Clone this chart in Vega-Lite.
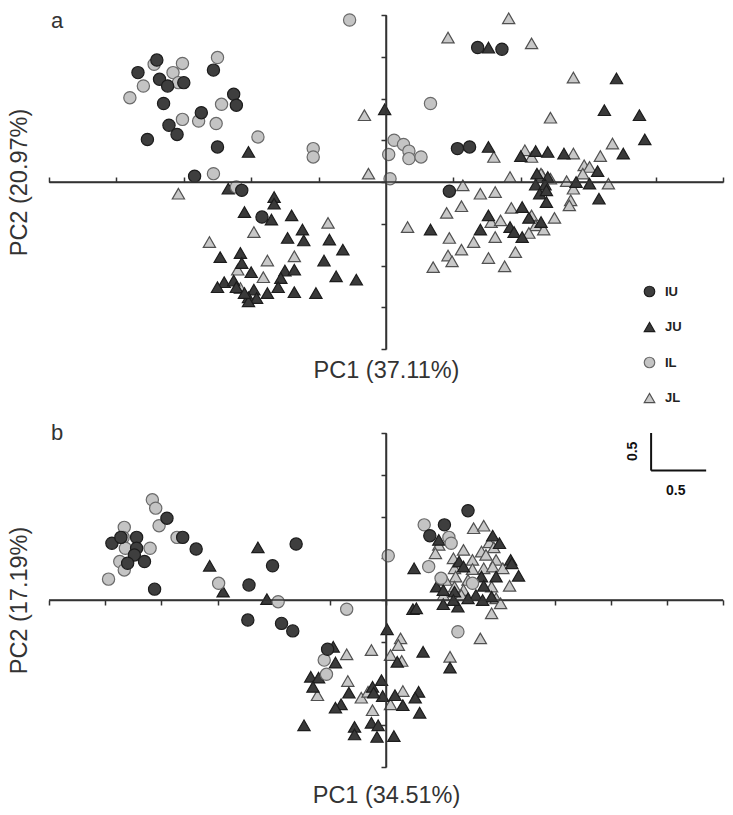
{
  "$schema": "https://vega.github.io/schema/vega-lite/v6.json",
  "background": "white",
  "padding": {"left": 7, "top": 9, "right": 5, "bottom": 5},
  "bounds": "flush",
  "spacing": 84,
  "config": {
    "view": {"stroke": null},
    "font": "Liberation Sans",
    "axis": {"grid": false},
    "legend": {"labelFont": "Liberation Sans", "labelFontSize": 13, "labelFontWeight": "bold", "labelColor": "#222", "symbolSize": 110, "symbolStrokeWidth": 1.2, "rowPadding": 19.5, "labelOffset": 9, "padding": 0}
  },
  "datasets": {
    "pa": [
      {"group":"JL","pc1":-0.16,"pc2":0.80},{"group":"JL","pc1":-0.13,"pc2":0.10},{"group":"JL","pc1":-1.54,"pc2":-0.14},{"group":"JL","pc1":-0.43,"pc2":-0.49},{"group":"JL","pc1":-0.98,"pc2":-0.60},{"group":"JL","pc1":-1.31,"pc2":-0.72},{"group":"JL","pc1":-0.88,"pc2":-0.94},{"group":"JL","pc1":-0.68,"pc2":-0.89},{"group":"JL","pc1":-1.10,"pc2":-1.05},{"group":"JL","pc1":-0.91,"pc2":-1.14},{"group":"JL","pc1":-1.08,"pc2":-1.27},
      {"group":"JL","pc1":0.91,"pc2":1.96},{"group":"JL","pc1":0.46,"pc2":1.73},{"group":"JL","pc1":1.08,"pc2":1.66},{"group":"JL","pc1":1.39,"pc2":1.25},{"group":"JL","pc1":1.22,"pc2":0.77},{"group":"JL","pc1":1.68,"pc2":0.46},{"group":"JL","pc1":0.80,"pc2":0.30},{"group":"JL","pc1":1.03,"pc2":0.38},{"group":"JL","pc1":1.08,"pc2":0.30},{"group":"JL","pc1":1.39,"pc2":0.34},{"group":"JL","pc1":1.59,"pc2":0.31},{"group":"JL","pc1":0.92,"pc2":0.06},{"group":"JL","pc1":1.47,"pc2":0.20},{"group":"JL","pc1":1.51,"pc2":0.18},{"group":"JL","pc1":1.46,"pc2":0.10},{"group":"JL","pc1":1.16,"pc2":0.08},{"group":"JL","pc1":1.22,"pc2":0.04},{"group":"JL","pc1":1.34,"pc2":0.01},{"group":"JL","pc1":1.65,"pc2":-0.02},{"group":"JL","pc1":0.57,"pc2":-0.04},{"group":"JL","pc1":1.39,"pc2":-0.08},{"group":"JL","pc1":0.70,"pc2":-0.14},{"group":"JL","pc1":0.81,"pc2":-0.12},{"group":"JL","pc1":1.37,"pc2":-0.22},{"group":"JL","pc1":1.36,"pc2":-0.28},{"group":"JL","pc1":0.56,"pc2":-0.29},{"group":"JL","pc1":0.45,"pc2":-0.37},{"group":"JL","pc1":0.93,"pc2":-0.31},{"group":"JL","pc1":0.78,"pc2":-0.48},{"group":"JL","pc1":0.85,"pc2":-0.46},{"group":"JL","pc1":1.08,"pc2":-0.40},{"group":"JL","pc1":1.11,"pc2":-0.52},{"group":"JL","pc1":1.25,"pc2":-0.43},{"group":"JL","pc1":1.17,"pc2":-0.57},{"group":"JL","pc1":1.06,"pc2":-0.61},{"group":"JL","pc1":0.16,"pc2":-0.54},{"group":"JL","pc1":0.65,"pc2":-0.72},{"group":"JL","pc1":0.47,"pc2":-0.67},{"group":"JL","pc1":0.81,"pc2":-0.66},{"group":"JL","pc1":0.56,"pc2":-0.81},{"group":"JL","pc1":0.96,"pc2":-0.84},{"group":"JL","pc1":0.46,"pc2":-0.88},{"group":"JL","pc1":0.49,"pc2":-0.95},{"group":"JL","pc1":0.76,"pc2":-0.91},{"group":"JL","pc1":0.35,"pc2":-1.02},{"group":"JL","pc1":0.88,"pc2":-1.01},{"group":"JL","pc1":1.15,"pc2":0.10},
      {"group":"JU","pc1":-1.02,"pc2":0.36},{"group":"JU","pc1":-0.01,"pc2":0.87},{"group":"JU","pc1":-1.17,"pc2":-0.08},{"group":"JU","pc1":-0.83,"pc2":-0.18},{"group":"JU","pc1":-0.83,"pc2":-0.26},{"group":"JU","pc1":-1.05,"pc2":-0.36},{"group":"JU","pc1":-0.85,"pc2":-0.45},{"group":"JU","pc1":-0.70,"pc2":-0.40},{"group":"JU","pc1":-0.62,"pc2":-0.57},{"group":"JU","pc1":-0.73,"pc2":-0.67},{"group":"JU","pc1":-0.61,"pc2":-0.70},{"group":"JU","pc1":-0.42,"pc2":-0.69},{"group":"JU","pc1":-0.32,"pc2":-0.81},{"group":"JU","pc1":-1.23,"pc2":-0.90},{"group":"JU","pc1":-1.08,"pc2":-0.85},{"group":"JU","pc1":-0.46,"pc2":-0.94},{"group":"JU","pc1":-1.07,"pc2":-0.97},{"group":"JU","pc1":-1.00,"pc2":-1.08},{"group":"JU","pc1":-0.75,"pc2":-1.06},{"group":"JU","pc1":-0.68,"pc2":-1.05},{"group":"JU","pc1":-0.37,"pc2":-1.13},{"group":"JU","pc1":-0.22,"pc2":-1.17},{"group":"JU","pc1":-0.78,"pc2":-1.15},{"group":"JU","pc1":-1.20,"pc2":-1.20},{"group":"JU","pc1":-1.13,"pc2":-1.18},{"group":"JU","pc1":-1.25,"pc2":-1.26},{"group":"JU","pc1":-1.11,"pc2":-1.26},{"group":"JU","pc1":-0.80,"pc2":-1.26},{"group":"JU","pc1":-0.98,"pc2":-1.29},{"group":"JU","pc1":-0.88,"pc2":-1.33},{"group":"JU","pc1":-0.68,"pc2":-1.32},{"group":"JU","pc1":-0.52,"pc2":-1.33},{"group":"JU","pc1":-1.02,"pc2":-1.38},{"group":"JU","pc1":-0.96,"pc2":-1.39},{"group":"JU","pc1":-1.02,"pc2":-1.43},{"group":"JU","pc1":-1.05,"pc2":-1.33},
      {"group":"JU","pc1":0.76,"pc2":1.61},{"group":"JU","pc1":1.71,"pc2":1.24},{"group":"JU","pc1":1.62,"pc2":0.86},{"group":"JU","pc1":1.88,"pc2":0.80},{"group":"JU","pc1":1.92,"pc2":0.51},{"group":"JU","pc1":0.76,"pc2":0.42},{"group":"JU","pc1":1.00,"pc2":0.31},{"group":"JU","pc1":1.11,"pc2":0.37},{"group":"JU","pc1":1.20,"pc2":0.36},{"group":"JU","pc1":1.32,"pc2":0.34},{"group":"JU","pc1":1.76,"pc2":0.34},{"group":"JU","pc1":1.57,"pc2":0.13},{"group":"JU","pc1":1.12,"pc2":0.10},{"group":"JU","pc1":1.20,"pc2":0.06},{"group":"JU","pc1":1.41,"pc2":0.00},{"group":"JU","pc1":1.51,"pc2":-0.02},{"group":"JU","pc1":1.11,"pc2":-0.03},{"group":"JU","pc1":1.18,"pc2":-0.03},{"group":"JU","pc1":1.14,"pc2":-0.14},{"group":"JU","pc1":1.19,"pc2":-0.10},{"group":"JU","pc1":1.58,"pc2":-0.20},{"group":"JU","pc1":1.19,"pc2":-0.24},{"group":"JU","pc1":1.01,"pc2":-0.30},{"group":"JU","pc1":0.76,"pc2":-0.40},{"group":"JU","pc1":1.06,"pc2":-0.43},{"group":"JU","pc1":1.15,"pc2":-0.48},{"group":"JU","pc1":0.92,"pc2":-0.54},{"group":"JU","pc1":0.95,"pc2":-0.60},{"group":"JU","pc1":1.01,"pc2":-0.66},{"group":"JU","pc1":0.33,"pc2":-0.57},{"group":"JU","pc1":0.70,"pc2":-0.57},
      {"group":"IL","pc1":-0.27,"pc2":1.94},{"group":"IL","pc1":-1.72,"pc2":1.41},{"group":"IL","pc1":-1.51,"pc2":1.42},{"group":"IL","pc1":-1.25,"pc2":1.49},{"group":"IL","pc1":-1.58,"pc2":1.31},{"group":"IL","pc1":-1.54,"pc2":1.19},{"group":"IL","pc1":-1.80,"pc2":1.15},{"group":"IL","pc1":-1.90,"pc2":1.01},{"group":"IL","pc1":-1.22,"pc2":0.93},{"group":"IL","pc1":-1.51,"pc2":0.75},{"group":"IL","pc1":-1.39,"pc2":0.73},{"group":"IL","pc1":-1.26,"pc2":0.70},{"group":"IL","pc1":-0.95,"pc2":0.54},{"group":"IL","pc1":-0.54,"pc2":0.40},{"group":"IL","pc1":-0.54,"pc2":0.30},{"group":"IL","pc1":-1.28,"pc2":0.10},{"group":"IL","pc1":-1.11,"pc2":-0.06},{"group":"IL","pc1":0.33,"pc2":0.94},{"group":"IL","pc1":0.06,"pc2":0.50},{"group":"IL","pc1":0.13,"pc2":0.45},{"group":"IL","pc1":0.17,"pc2":0.37},{"group":"IL","pc1":0.02,"pc2":0.33},{"group":"IL","pc1":0.17,"pc2":0.28},{"group":"IL","pc1":0.26,"pc2":0.30},{"group":"IL","pc1":0.03,"pc2":0.04},
      {"group":"IU","pc1":-1.70,"pc2":1.46},{"group":"IU","pc1":-1.84,"pc2":1.31},{"group":"IU","pc1":-1.28,"pc2":1.34},{"group":"IU","pc1":-1.68,"pc2":1.23},{"group":"IU","pc1":-1.50,"pc2":1.19},{"group":"IU","pc1":-1.62,"pc2":1.15},{"group":"IU","pc1":-1.13,"pc2":1.05},{"group":"IU","pc1":-1.65,"pc2":0.94},{"group":"IU","pc1":-1.11,"pc2":0.92},{"group":"IU","pc1":-1.37,"pc2":0.83},{"group":"IU","pc1":-1.61,"pc2":0.68},{"group":"IU","pc1":-1.55,"pc2":0.57},{"group":"IU","pc1":-1.77,"pc2":0.51},{"group":"IU","pc1":-1.25,"pc2":0.42},{"group":"IU","pc1":-1.42,"pc2":0.07},{"group":"IU","pc1":-1.07,"pc2":-0.10},{"group":"IU","pc1":-0.92,"pc2":-0.42},{"group":"IU","pc1":0.68,"pc2":1.61},{"group":"IU","pc1":0.86,"pc2":1.59},{"group":"IU","pc1":0.53,"pc2":0.40},{"group":"IU","pc1":0.62,"pc2":0.42},{"group":"IU","pc1":0.47,"pc2":-0.11}
    ],
    "pb": [
      {"group":"JL","pc1":-0.35,"pc2":-0.65},{"group":"JL","pc1":-0.13,"pc2":-0.60},{"group":"JL","pc1":-0.34,"pc2":-0.97},{"group":"JL","pc1":-0.61,"pc2":-1.14},{"group":"JL","pc1":-0.22,"pc2":-1.17},{"group":"JL","pc1":-0.16,"pc2":-1.10},{"group":"JL","pc1":-0.12,"pc2":-1.32},{"group":"JL","pc1":0.13,"pc2":-0.46},{"group":"JL","pc1":0.11,"pc2":-0.54},{"group":"JL","pc1":0.04,"pc2":-0.66},{"group":"JL","pc1":0.14,"pc2":-0.73},{"group":"JL","pc1":0.15,"pc2":-1.09},{"group":"JL","pc1":0.04,"pc2":-1.25},{"group":"JL","pc1":0.57,"pc2":-0.68},{"group":"JL","pc1":0.84,"pc2":-0.46},{"group":"JL","pc1":0.94,"pc2":-0.16},{"group":"JL","pc1":0.78,"pc2":0.86},{"group":"JL","pc1":0.87,"pc2":0.89},{"group":"JL","pc1":0.47,"pc2":0.66},{"group":"JL","pc1":0.44,"pc2":0.56},{"group":"JL","pc1":0.92,"pc2":0.69},{"group":"JL","pc1":0.96,"pc2":0.63},{"group":"JL","pc1":0.69,"pc2":0.60},{"group":"JL","pc1":0.85,"pc2":0.58},{"group":"JL","pc1":0.60,"pc2":0.50},{"group":"JL","pc1":0.77,"pc2":0.48},{"group":"JL","pc1":0.98,"pc2":0.48},{"group":"JL","pc1":0.89,"pc2":0.54},{"group":"JL","pc1":0.61,"pc2":0.38},{"group":"JL","pc1":0.77,"pc2":0.37},{"group":"JL","pc1":0.87,"pc2":0.38},{"group":"JL","pc1":0.95,"pc2":0.40},{"group":"JL","pc1":1.04,"pc2":0.38},{"group":"JL","pc1":0.62,"pc2":0.28},{"group":"JL","pc1":0.73,"pc2":0.24},{"group":"JL","pc1":1.10,"pc2":0.17},{"group":"JL","pc1":0.53,"pc2":0.24},{"group":"JL","pc1":0.61,"pc2":0.16},{"group":"JL","pc1":0.94,"pc2":0.16},{"group":"JL","pc1":0.69,"pc2":0.12},{"group":"JL","pc1":0.67,"pc2":0.06},{"group":"JL","pc1":0.51,"pc2":0.06},{"group":"JL","pc1":0.98,"pc2":0.02},{"group":"JL","pc1":1.02,"pc2":-0.04},
      {"group":"JU","pc1":-1.57,"pc2":0.41},{"group":"JU","pc1":-1.45,"pc2":0.10},{"group":"JU","pc1":-1.14,"pc2":0.63},{"group":"JU","pc1":-1.06,"pc2":0.01},{"group":"JU","pc1":-0.47,"pc2":-0.56},{"group":"JU","pc1":-0.45,"pc2":-0.75},{"group":"JU","pc1":-0.67,"pc2":-0.92},{"group":"JU","pc1":-0.60,"pc2":-0.93},{"group":"JU","pc1":-0.65,"pc2":-1.04},{"group":"JU","pc1":-0.33,"pc2":-1.11},{"group":"JU","pc1":-0.40,"pc2":-1.25},{"group":"JU","pc1":-0.45,"pc2":-1.29},{"group":"JU","pc1":-0.73,"pc2":-1.50},{"group":"JU","pc1":-0.13,"pc2":-1.47},{"group":"JU","pc1":-0.07,"pc2":-1.50},{"group":"JU","pc1":-0.28,"pc2":-1.52},{"group":"JU","pc1":-0.28,"pc2":-1.61},{"group":"JU","pc1":-0.08,"pc2":-1.64},{"group":"JU","pc1":0.07,"pc2":-1.63},{"group":"JU","pc1":0.01,"pc2":-0.35},{"group":"JU","pc1":0.33,"pc2":-0.62},{"group":"JU","pc1":0.10,"pc2":-0.74},{"group":"JU","pc1":-0.04,"pc2":-0.96},{"group":"JU","pc1":-0.12,"pc2":-1.04},{"group":"JU","pc1":-0.03,"pc2":-1.15},{"group":"JU","pc1":-0.11,"pc2":-1.11},{"group":"JU","pc1":0.08,"pc2":-1.14},{"group":"JU","pc1":0.29,"pc2":-1.10},{"group":"JU","pc1":0.26,"pc2":-1.17},{"group":"JU","pc1":0.15,"pc2":-1.26},{"group":"JU","pc1":0.30,"pc2":-1.35},{"group":"JU","pc1":0.57,"pc2":-0.81},{"group":"JU","pc1":0.24,"pc2":-0.11},{"group":"JU","pc1":0.27,"pc2":-0.10},{"group":"JU","pc1":0.64,"pc2":-0.08},{"group":"JU","pc1":0.47,"pc2":0.72},{"group":"JU","pc1":0.95,"pc2":0.77},{"group":"JU","pc1":1.01,"pc2":0.68},{"group":"JU","pc1":0.65,"pc2":0.46},{"group":"JU","pc1":1.11,"pc2":0.48},{"group":"JU","pc1":0.25,"pc2":0.38},{"group":"JU","pc1":0.69,"pc2":0.40},{"group":"JU","pc1":0.85,"pc2":0.28},{"group":"JU","pc1":0.98,"pc2":0.28},{"group":"JU","pc1":1.18,"pc2":0.29},{"group":"JU","pc1":0.45,"pc2":0.16},{"group":"JU","pc1":0.87,"pc2":0.17},{"group":"JU","pc1":0.51,"pc2":0.12},{"group":"JU","pc1":0.61,"pc2":0.10},{"group":"JU","pc1":0.80,"pc2":0.06},{"group":"JU","pc1":0.94,"pc2":0.04},{"group":"JU","pc1":0.73,"pc2":0.02},{"group":"JU","pc1":0.60,"pc2":0.00},{"group":"JU","pc1":0.86,"pc2":0.00},{"group":"JU","pc1":1.12,"pc2":0.44},{"group":"JU","pc1":0.51,"pc2":-0.05},
      {"group":"IL","pc1":-2.08,"pc2":1.20},{"group":"IL","pc1":-2.05,"pc2":1.10},{"group":"IL","pc1":-2.02,"pc2":0.89},{"group":"IL","pc1":-2.33,"pc2":0.87},{"group":"IL","pc1":-2.34,"pc2":0.75},{"group":"IL","pc1":-2.32,"pc2":0.62},{"group":"IL","pc1":-2.10,"pc2":0.62},{"group":"IL","pc1":-2.37,"pc2":0.46},{"group":"IL","pc1":-2.33,"pc2":0.36},{"group":"IL","pc1":-2.47,"pc2":0.25},{"group":"IL","pc1":-1.86,"pc2":0.75},{"group":"IL","pc1":-1.49,"pc2":0.20},{"group":"IL","pc1":-0.96,"pc2":-0.02},{"group":"IL","pc1":-0.35,"pc2":-0.11},{"group":"IL","pc1":-0.55,"pc2":-0.72},{"group":"IL","pc1":-0.53,"pc2":-0.89},{"group":"IL","pc1":0.64,"pc2":-0.38},{"group":"IL","pc1":0.02,"pc2":0.53},{"group":"IL","pc1":0.34,"pc2":0.90},{"group":"IL","pc1":0.56,"pc2":0.75},{"group":"IL","pc1":0.58,"pc2":0.68},{"group":"IL","pc1":0.38,"pc2":0.40},{"group":"IL","pc1":0.49,"pc2":0.26},{"group":"IL","pc1":0.77,"pc2":0.20},
      {"group":"IU","pc1":-1.95,"pc2":0.98},{"group":"IU","pc1":-2.44,"pc2":0.68},{"group":"IU","pc1":-2.36,"pc2":0.75},{"group":"IU","pc1":-2.22,"pc2":0.75},{"group":"IU","pc1":-2.22,"pc2":0.62},{"group":"IU","pc1":-2.24,"pc2":0.54},{"group":"IU","pc1":-2.15,"pc2":0.46},{"group":"IU","pc1":-2.30,"pc2":0.44},{"group":"IU","pc1":-2.06,"pc2":0.13},{"group":"IU","pc1":-1.81,"pc2":0.75},{"group":"IU","pc1":-1.69,"pc2":0.61},{"group":"IU","pc1":-1.22,"pc2":0.18},{"group":"IU","pc1":-0.80,"pc2":0.67},{"group":"IU","pc1":-1.01,"pc2":0.41},{"group":"IU","pc1":-1.23,"pc2":-0.24},{"group":"IU","pc1":-0.93,"pc2":-0.28},{"group":"IU","pc1":-0.83,"pc2":-0.37},{"group":"IU","pc1":-0.52,"pc2":-0.59},{"group":"IU","pc1":0.73,"pc2":1.07},{"group":"IU","pc1":0.52,"pc2":0.90},{"group":"IU","pc1":0.39,"pc2":0.77}
    ],
    "bar": [
      {"x1": 2.36, "x2": 2.85, "y1": 1.55, "y2": 1.55},
      {"x1": 2.36, "x2": 2.36, "y1": 1.55, "y2": 2.0}
    ],
    "barlabel": [{"x": 2.58, "y": 1.31, "label": "0.5"}],
    "barlabelv": [{"x": 2.20, "y": 1.78, "label": "0.5"}]
  },
  "resolve": {"legend": {"shape": "independent", "fill": "independent", "stroke": "independent"}},
  "vconcat": [
    {
      "width": 674,
      "height": 334,
      "title": {"text": "a", "anchor": "start", "frame": "group", "orient": "top", "offset": -39, "dx": 2, "baseline": "alphabetic", "fontSize": 22, "fontWeight": "normal", "font": "Liberation Sans", "color": "#333"},
      "resolve": {"axis": {"x": "independent", "y": "independent"}},
      "layer": [
        {
          "data": {"name": "pa"},
          "mark": {"type": "point", "filled": true, "size": 150, "strokeWidth": 1.2, "opacity": 1},
          "encoding": {
            "x": {"field": "pc1", "type": "quantitative", "scale": {"domain": [-2.5, 2.5], "nice": false, "zero": false},
              "axis": {"title": "PC1 (37.11%)", "orient": "bottom", "domain": false, "ticks": false, "labels": false, "titlePadding": 9, "titleFontSize": 23.5, "titleFontWeight": "normal", "titleColor": "#333", "titleFont": "Liberation Sans"}},
            "y": {"field": "pc2", "type": "quantitative", "scale": {"domain": [-2, 2], "nice": false, "zero": false},
              "axis": {"title": "PC2 (20.97%)", "orient": "left", "domain": false, "ticks": false, "labels": false, "titlePadding": 18, "titleFontSize": 23.5, "titleFontWeight": "normal", "titleColor": "#333", "titleFont": "Liberation Sans"}},
            "shape": {"field": "group", "type": "nominal", "scale": {"domain": ["IU", "JU", "IL", "JL"], "range": ["circle", "triangle-up", "circle", "triangle-up"]},
              "legend": {"title": null, "orient": "none", "legendX": 594, "legendY": 270, "direction": "vertical"}},
            "fill": {"field": "group", "type": "nominal", "scale": {"domain": ["IU", "JU", "IL", "JL"], "range": ["#3e3e3e", "#3a3a3a", "#c4c4c4", "#c8c8c8"]},
              "legend": {"title": null, "orient": "none", "legendX": 594, "legendY": 270, "direction": "vertical"}},
            "stroke": {"field": "group", "type": "nominal", "scale": {"domain": ["IU", "JU", "IL", "JL"], "range": ["#1c1c1c", "#1c1c1c", "#6a6a6a", "#505050"]},
              "legend": {"title": null, "orient": "none", "legendX": 594, "legendY": 270, "direction": "vertical"}}
          }
        },
        {
          "data": {"values": [{}]},
          "mark": {"type": "rule", "color": "#333", "strokeWidth": 1.5},
          "encoding": {
            "x": {"datum": 0, "type": "quantitative", "scale": {"domain": [-2.5, 2.5], "nice": false, "zero": false},
              "axis": {"orient": "top", "offset": -167, "title": null, "labels": false, "domain": true, "domainColor": "#333", "domainWidth": 1.5, "ticks": true, "tickSize": 5, "tickColor": "#333", "tickWidth": 1.5, "values": [-2.5, -2, -1.5, -1, -0.5, 0, 0.5, 1, 1.5, 2, 2.5]}}
          }
        },
        {
          "data": {"values": [{}]},
          "mark": {"type": "rule", "color": "#333", "strokeWidth": 1.5},
          "encoding": {
            "y": {"datum": 0, "type": "quantitative", "scale": {"domain": [-2, 2], "nice": false, "zero": false},
              "axis": {"orient": "left", "offset": -337, "title": null, "labels": false, "domain": true, "domainColor": "#333", "domainWidth": 1.5, "ticks": true, "tickSize": 5, "tickColor": "#333", "tickWidth": 1.5, "values": [-2, -1.5, -1, -0.5, 0, 0.5, 1, 1.5, 2]}}
          }
        }
      ]
    },
    {
      "width": 674,
      "height": 334,
      "title": {"text": "b", "anchor": "start", "frame": "group", "orient": "top", "offset": -30, "dx": 2, "baseline": "alphabetic", "fontSize": 22, "fontWeight": "normal", "font": "Liberation Sans", "color": "#333"},
      "resolve": {"axis": {"x": "independent", "y": "independent"}},
      "layer": [
        {
          "data": {"name": "pb"},
          "mark": {"type": "point", "filled": true, "size": 150, "strokeWidth": 1.2, "opacity": 1},
          "encoding": {
            "x": {"field": "pc1", "type": "quantitative", "scale": {"domain": [-3, 3], "nice": false, "zero": false},
              "axis": {"title": "PC1 (34.51%)", "orient": "bottom", "domain": false, "ticks": false, "labels": false, "titlePadding": 16, "titleFontSize": 23.5, "titleFontWeight": "normal", "titleColor": "#333", "titleFont": "Liberation Sans"}},
            "y": {"field": "pc2", "type": "quantitative", "scale": {"domain": [-2, 2], "nice": false, "zero": false},
              "axis": {"title": "PC2 (17.19%)", "orient": "left", "domain": false, "ticks": false, "labels": false, "titlePadding": 18, "titleFontSize": 23.5, "titleFontWeight": "normal", "titleColor": "#333", "titleFont": "Liberation Sans"}},
            "shape": {"field": "group", "type": "nominal", "scale": {"domain": ["IU", "JU", "IL", "JL"], "range": ["circle", "triangle-up", "circle", "triangle-up"]}, "legend": null},
            "fill": {"field": "group", "type": "nominal", "scale": {"domain": ["IU", "JU", "IL", "JL"], "range": ["#3e3e3e", "#3a3a3a", "#c4c4c4", "#c8c8c8"]}, "legend": null},
            "stroke": {"field": "group", "type": "nominal", "scale": {"domain": ["IU", "JU", "IL", "JL"], "range": ["#1c1c1c", "#1c1c1c", "#6a6a6a", "#505050"]}, "legend": null}
          }
        },
        {
          "data": {"values": [{}]},
          "mark": {"type": "rule", "color": "#333", "strokeWidth": 1.5},
          "encoding": {
            "x": {"datum": 0, "type": "quantitative", "scale": {"domain": [-3, 3], "nice": false, "zero": false},
              "axis": {"orient": "bottom", "offset": -167, "title": null, "labels": false, "domain": true, "domainColor": "#333", "domainWidth": 1.5, "ticks": true, "tickSize": 5, "tickColor": "#333", "tickWidth": 1.5, "values": [-3, -2.5, -2, -1.5, -1, -0.5, 0, 0.5, 1, 1.5, 2, 2.5, 3]}}
          }
        },
        {
          "data": {"values": [{}]},
          "mark": {"type": "rule", "color": "#333", "strokeWidth": 1.5},
          "encoding": {
            "y": {"datum": 0, "type": "quantitative", "scale": {"domain": [-2, 2], "nice": false, "zero": false},
              "axis": {"orient": "left", "offset": -337, "title": null, "labels": false, "domain": true, "domainColor": "#333", "domainWidth": 1.5, "ticks": true, "tickSize": 5, "tickColor": "#333", "tickWidth": 1.5, "values": [-2, -1.5, -1, -0.5, 0, 0.5, 1, 1.5, 2]}}
          }
        },
        {
          "data": {"name": "bar"},
          "mark": {"type": "rule", "color": "#111", "strokeWidth": 2},
          "encoding": {
            "x": {"field": "x1", "type": "quantitative", "axis": null},
            "x2": {"field": "x2"},
            "y": {"field": "y1", "type": "quantitative", "axis": null},
            "y2": {"field": "y2"}
          }
        },
        {
          "data": {"name": "barlabel"},
          "mark": {"type": "text", "font": "Liberation Sans", "fontSize": 14, "fontWeight": "bold", "color": "#111"},
          "encoding": {
            "x": {"field": "x", "type": "quantitative", "axis": null},
            "y": {"field": "y", "type": "quantitative", "axis": null},
            "text": {"field": "label"}
          }
        },
        {
          "data": {"name": "barlabelv"},
          "mark": {"type": "text", "font": "Liberation Sans", "fontSize": 14, "fontWeight": "bold", "color": "#111", "angle": 270},
          "encoding": {
            "x": {"field": "x", "type": "quantitative", "axis": null},
            "y": {"field": "y", "type": "quantitative", "axis": null},
            "text": {"field": "label"}
          }
        }
      ]
    }
  ]
}
